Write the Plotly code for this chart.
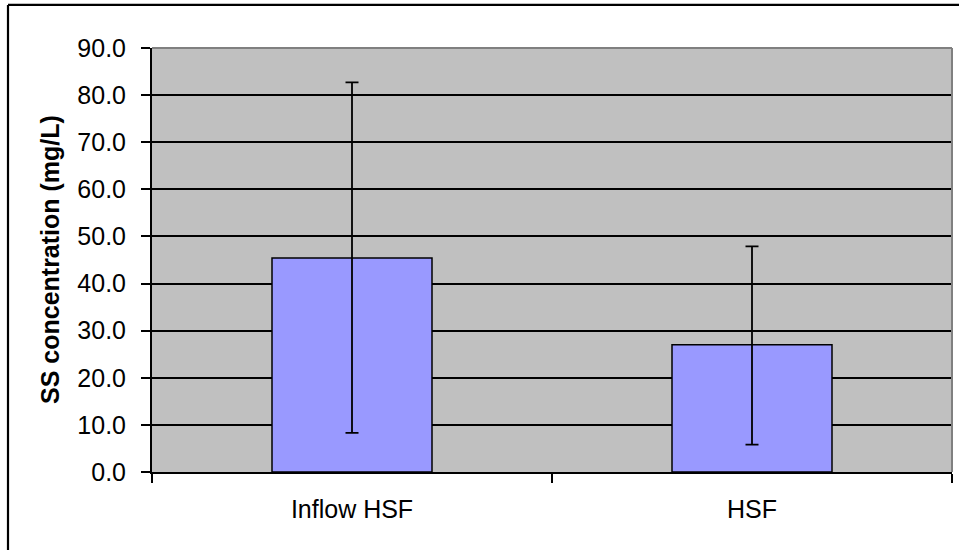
import plotly.graph_objects as go

categories = ["Inflow HSF", "HSF"]
means = [45.4, 27.0]
err_plus = [37.3, 20.9]
err_minus = [37.1, 21.2]
y_tickvals = [0, 10, 20, 30, 40, 50, 60, 70, 80, 90]
y_title = "SS concentration (mg/L)"

FONT = "Liberation Sans, Arial, sans-serif"

fig = go.Figure()
fig.add_trace(go.Bar(
    x=categories, y=means,
    marker=dict(color="#9999FF", line=dict(color="black", width=1.5)),
    error_y=dict(type="data", symmetric=False, array=err_plus, arrayminus=err_minus,
                 color="black", thickness=1.8, width=6.5),
    width=0.4,
))

fig.update_layout(
    width=959, height=550,
    margin=dict(l=152, r=7, t=48, b=78, autoexpand=False),
    paper_bgcolor="white",
    plot_bgcolor="#C0C0C0",
    showlegend=False,
    font=dict(family=FONT, size=25, color="black"),
    bargap=0.6,
    xaxis=dict(
        type="category", tickson="boundaries", ticks="outside", ticklen=9,
        tickwidth=1.8, tickcolor="black", showline=True, linecolor="black",
        linewidth=2, showgrid=False, tickfont=dict(size=25),
        ticklabelstandoff=14,
    ),
    yaxis=dict(
        range=[0, 90], tickvals=y_tickvals, tickformat=".1f",
        ticks="outside", ticklen=9, tickwidth=1.8, tickcolor="black",
        showline=True, linecolor="black", linewidth=2,
        showgrid=True, gridcolor="black", gridwidth=1.8,
        zeroline=False, tickfont=dict(size=25), ticklabelstandoff=10,
    ),
    annotations=[dict(
        text="<b>" + y_title + "</b>", xref="paper", yref="paper",
        x=-0.1275, y=0.5, xanchor="center", yanchor="middle",
        textangle=-90, showarrow=False, font=dict(family=FONT, size=25, color="black"),
    )],
    shapes=[
        dict(type="line", xref="paper", yref="paper", x0=0, x1=1, y0=1, y1=1,
             line=dict(color="#808080", width=2), layer="above"),
        dict(type="line", xref="paper", yref="paper", x0=1, x1=1, y0=0, y1=1,
             line=dict(color="#808080", width=2), layer="above"),
        dict(type="line", xref="paper", yref="paper", x0=-0.18, x1=1.02, y0=1.1015, y1=1.1015,
             line=dict(color="black", width=2.2)),
        dict(type="line", xref="paper", yref="paper", x0=-0.18, x1=-0.18, y0=1.1015, y1=-0.2,
             line=dict(color="black", width=2.2)),
    ],
)

fig.write_html("out.html", config={"displayModeBar": False},
               post_script="document.body.style.margin='0';document.body.style.padding='0';")
